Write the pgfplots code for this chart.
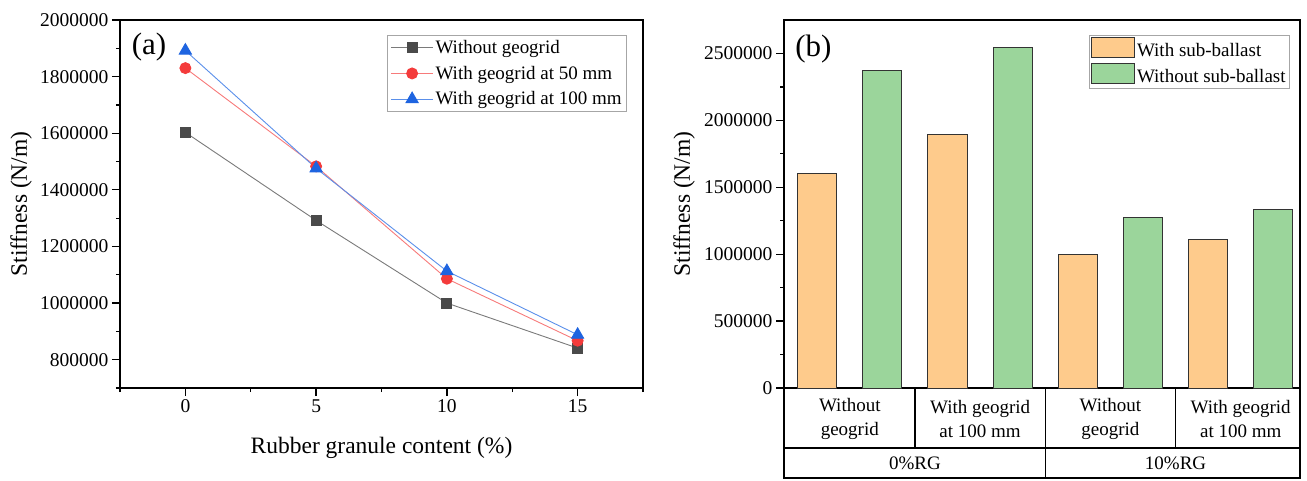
\documentclass[border=0pt]{standalone}
\usepackage{pgfplots}
\pgfplotsset{compat=1.18}
\usepackage{fontspec}
\setmainfont{Liberation Serif}
\definecolor{cBlack}{HTML}{4A4A4A}
\definecolor{cBlackL}{HTML}{7A7A7A}
\definecolor{cRed}{HTML}{F43B3B}
\definecolor{cRedL}{HTML}{F77A7A}
\definecolor{cBlue}{HTML}{1E64E0}
\definecolor{cBlueL}{HTML}{5A8FEA}
\definecolor{cOrange}{HTML}{FECB8C}
\definecolor{cGreen}{HTML}{9BD59B}
\definecolor{cEdge}{HTML}{333333}
\pgfplotsset{
  common/.style={
    scale only axis,
    anchor=south west,
    axis line style={line width=1.3pt, black},
    every tick/.style={line width=1.3pt, black},
    tick align=outside,
    major tick length=8pt,
    minor tick length=4pt,
    scaled x ticks=false,
    scaled y ticks=false,
    tick label style={font=\fontsize{19.5}{22}\selectfont},
    legend style={draw=gray!70, line width=0.8pt, font=\fontsize{19}{22}\selectfont, inner sep=2pt, row sep=4pt},
    legend cell align=left,
  },
  mybarlegend/.style={legend image code/.code={\draw[##1] (0pt,-7pt) rectangle (43pt,13pt);}},
  mylinelegend/.style={legend image code/.code={\draw[mark repeat=2,mark phase=2,##1] plot coordinates {(0pt,0pt) (21pt,0pt) (42pt,0pt)};}},
}
\begin{document}
\begin{tikzpicture}
\path (0,0) rectangle (1307pt,480pt);
% ---------- panel (a)
\begin{axis}[common,
  at={(120pt,92pt)}, width=523pt, height=368pt,
  xmin=-2.5, xmax=17.5, ymin=700000, ymax=2000000,
  xtick={0,5,10,15}, xticklabels={0,5,10,15},
  minor xtick={-2.5,2.5,7.5,12.5,17.5},
  ytick={800000,1000000,1200000,1400000,1600000,1800000,2000000},
  yticklabels={800000,1000000,1200000,1400000,1600000,1800000,2000000},
  minor ytick={700000,900000,1100000,1300000,1500000,1700000,1900000},
  xtick pos=bottom, ytick pos=left,
  xlabel={Rubber granule content (\%)},
  ylabel={Stiffness (N/m)},
  every axis y label/.style={at={(axis description cs:-0.1893,0.5)}, rotate=90, anchor=center, font=\fontsize{23.5}{26}\selectfont},
  every axis x label/.style={at={(axis description cs:0.5,-0.163)}, anchor=center, font=\fontsize{23.5}{26}\selectfont},
  legend style={at={(axis description cs:0.9694,0.9592)}, anchor=north east, row sep=7pt, inner sep=3pt},
  mylinelegend,
  clip=false,
]
\addplot[color=cBlackL, line width=0.9pt, mark=square*, mark size=5pt, mark options={fill=cBlack, draw=cBlack}]
  coordinates {(0,1603000) (5,1292000) (10,1000000) (15,841000)};
\addlegendentry{Without geogrid}
\addplot[color=cRedL, line width=0.9pt, mark=*, mark size=5.5pt, mark options={fill=cRed, draw=cRed}]
  coordinates {(0,1830000) (5,1483000) (10,1086000) (15,867000)};
\addlegendentry{With geogrid at 50 mm}
\addplot[color=cBlueL, line width=0.9pt, mark=triangle*, mark size=7pt, mark options={fill=cBlue, draw=cBlue}]
  coordinates {(0,1892000) (5,1476000) (10,1113000) (15,888000)};
\addlegendentry{With geogrid at 100 mm}
\node[font=\fontsize{31}{34}\selectfont] at (rel axis cs:0.0555,0.9266) {(a)};
\end{axis}
% ---------- panel (b)
\begin{axis}[common,
  at={(784pt,92pt)}, width=516pt, height=368pt,
  xmin=0.49, xmax=8.41, ymin=0, ymax=2750000,
  xtick=\empty,
  ytick={0,500000,1000000,1500000,2000000,2500000},
  yticklabels={0,500000,1000000,1500000,2000000,2500000},
  minor ytick={250000,750000,1250000,1750000,2250000},
  ytick pos=left,
  ylabel={Stiffness (N/m)},
  every axis y label/.style={at={(axis description cs:-0.1938,0.5)}, rotate=90, anchor=center, font=\fontsize{23.5}{26}\selectfont},
  legend style={at={(axis description cs:0.9806,0.9592)}, anchor=north east, row sep=3pt},
  ybar, bar width=0.6,
  clip=false,
]
\addplot[bar shift=0pt, fill=cOrange, draw=cEdge, line width=1pt, mybarlegend]
  coordinates {(1,1600000) (3,1894000) (5,1000000) (7,1112000)};
\addlegendentry{With sub-ballast}
\addplot[bar shift=0pt, fill=cGreen, draw=cEdge, line width=1pt, mybarlegend]
  coordinates {(2,2373000) (4,2542000) (6,1271000) (8,1336000)};
\addlegendentry{Without sub-ballast}
\node[font=\fontsize{31}{34}\selectfont] at (rel axis cs:0.057,0.921) {(b)};
% category table
\draw[line width=1.3pt] (rel axis cs:0,0) -- ([yshift=-90pt]rel axis cs:0,0) -- ([yshift=-90pt]rel axis cs:1,0) -- (rel axis cs:1,0);
\draw[line width=1.3pt] ([yshift=-60pt]rel axis cs:0,0) -- ([yshift=-60pt]rel axis cs:1,0);
\draw[line width=1.3pt] (axis cs:2.5,0) -- ([yshift=-60pt]axis cs:2.5,0);
\draw[line width=1.3pt] (axis cs:6.5,0) -- ([yshift=-60pt]axis cs:6.5,0);
\draw[line width=1.3pt] (axis cs:4.5,0) -- ([yshift=-90pt]axis cs:4.5,0);
\begin{scope}[every node/.style={font=\fontsize{19}{24}\selectfont, align=center, anchor=center}]
\node at ([yshift=-30.7pt]axis cs:1.5,0) {Without\\geogrid};
\node at ([yshift=-30.7pt]axis cs:3.5,0) {With geogrid\\at 100 mm};
\node at ([yshift=-30.7pt]axis cs:5.5,0) {Without\\geogrid};
\node at ([yshift=-30.7pt]axis cs:7.5,0) {With geogrid\\at 100 mm};
\node at ([yshift=-75pt]axis cs:2.5,0) {0\%RG};
\node at ([yshift=-75pt]axis cs:6.5,0) {10\%RG};
\end{scope}
\end{axis}
\end{tikzpicture}
\end{document}
